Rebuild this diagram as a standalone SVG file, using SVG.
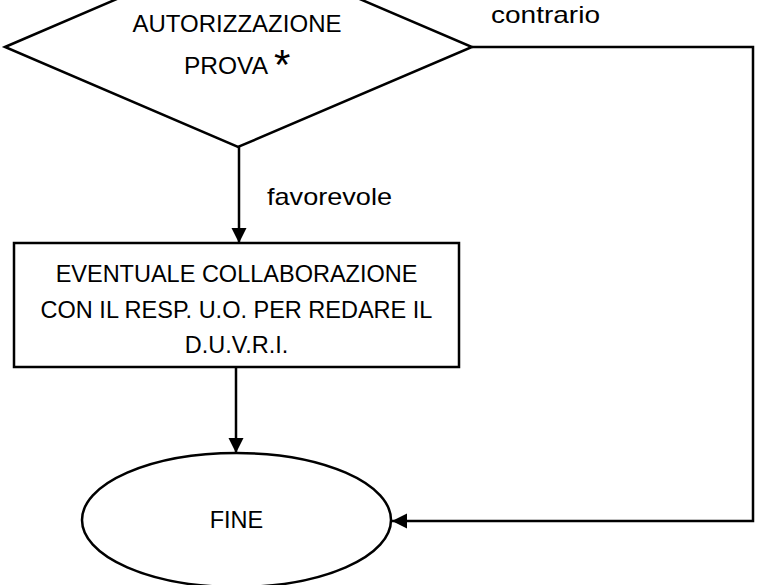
<svg xmlns="http://www.w3.org/2000/svg" width="758" height="585" viewBox="0 0 758 585">
  <style>
    .shape { fill: #ffffff; stroke: #000000; stroke-width: 2.5; }
    .wire { fill: none; stroke: #000000; stroke-width: 2.5; }
    .txt { font-family: "Liberation Sans", Arial, sans-serif; fill: #000000; }
    .node { font-size: 23.5px; text-anchor: middle; }
    .label { font-size: 24px; }
  </style>
  <defs>
    <marker id="arrow" markerUnits="userSpaceOnUse" markerWidth="16" markerHeight="16" refX="15" refY="7.5" orient="auto">
      <path d="M0,0 L15,7.5 L0,15 Z" fill="#000000"/>
    </marker>
  </defs>
  <rect width="758" height="585" fill="#ffffff"/>

  <!-- connectors -->
  <g id="connectors">
    <path class="wire" d="M239,147 L239,243" marker-end="url(#arrow)"/>
    <path class="wire" d="M236,367 L236,453" marker-end="url(#arrow)"/>
    <path class="wire" d="M472,47 L753,47 L753,521 L392,521" marker-end="url(#arrow)"/>
    <text class="txt label" x="267" y="205" textLength="125" lengthAdjust="spacingAndGlyphs">favorevole</text>
    <text class="txt label" x="491" y="23" textLength="109" lengthAdjust="spacingAndGlyphs">contrario</text>
  </g>

  <!-- decision -->
  <g id="autorizzazione">
    <polygon class="shape" points="5,47 238,-53 472,47 238,147"/>
    <text class="txt" x="237" y="32" font-size="24" text-anchor="middle" textLength="209" lengthAdjust="spacingAndGlyphs">AUTORIZZAZIONE</text>
    <text class="txt" x="184" y="74" font-size="24" textLength="84" lengthAdjust="spacingAndGlyphs">PROVA</text>
    <text class="txt" x="274" y="79" font-size="42">*</text>
  </g>

  <!-- process -->
  <g id="collaborazione">
    <rect class="shape" x="14" y="243" width="445" height="124"/>
    <text class="txt node" x="236.5" y="282">EVENTUALE COLLABORAZIONE</text>
    <text class="txt node" x="236.5" y="318">CON IL RESP. U.O. PER REDARE IL</text>
    <text class="txt node" x="236.5" y="353">D.U.V.R.I.</text>
  </g>

  <!-- terminator -->
  <g id="fine">
    <ellipse class="shape" cx="236.5" cy="520" rx="154.5" ry="67"/>
    <text class="txt node" x="236.5" y="528">FINE</text>
  </g>
</svg>
